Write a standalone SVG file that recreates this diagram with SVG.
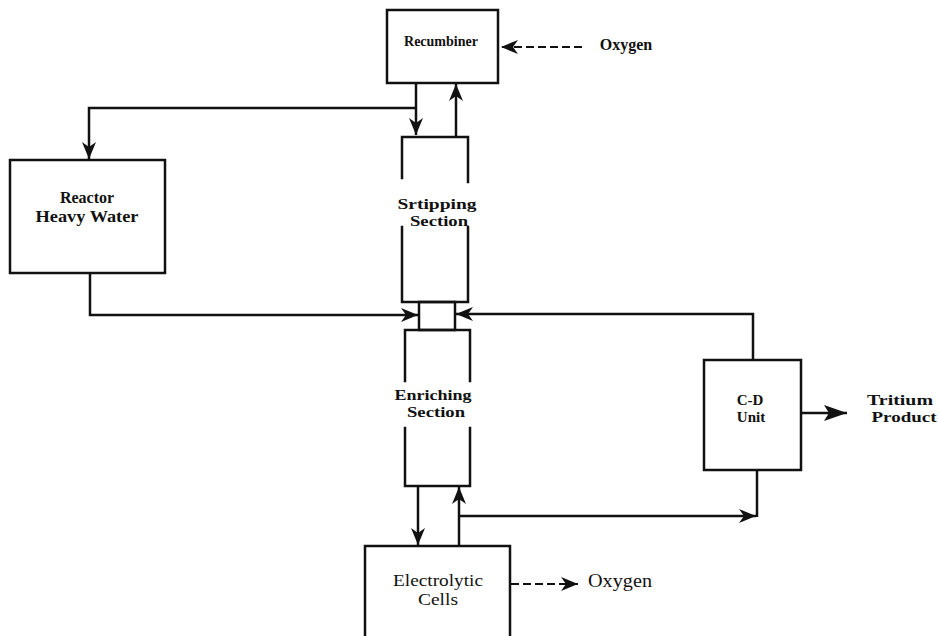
<svg xmlns="http://www.w3.org/2000/svg" width="939" height="636" viewBox="0 0 939 636">
<defs>
<style>
.box{fill:none;stroke:#111;stroke-width:2.5;stroke-linecap:square}
.ln{fill:none;stroke:#111;stroke-width:2.5}
.dash{fill:none;stroke:#111;stroke-width:1.8;stroke-dasharray:8,4}
.t{font-family:"Liberation Serif","DejaVu Serif",serif;font-weight:bold;fill:#111;text-anchor:middle}
.n{font-family:"Liberation Serif","DejaVu Serif",serif;font-weight:normal;fill:#111;text-anchor:middle}
</style>
<marker id="ah" markerWidth="18" markerHeight="14" refX="17" refY="7" orient="auto" markerUnits="userSpaceOnUse">
<path d="M0,0 L17,7 L0,14 L5,7 Z" fill="#111"/>
</marker>
<marker id="ahb" markerWidth="24" markerHeight="16" refX="23" refY="8" orient="auto" markerUnits="userSpaceOnUse">
<path d="M0,0 L23,8 L0,16 L5,8 Z" fill="#111"/>
</marker>
</defs>
<rect width="939" height="636" fill="#fff"/>

<g id="connectors">
<path class="ln" d="M416,83 V135" marker-end="url(#ah)"/>
<path class="ln" d="M416,108 H89 V159" marker-end="url(#ah)"/>
<path class="ln" d="M456,137 V84" marker-end="url(#ah)"/>
<path class="ln" d="M90,273 V315 H418" marker-end="url(#ah)"/>
<path class="ln" d="M753,360 V314 H456" marker-end="url(#ah)"/>
<path class="ln" d="M418,486 V545" marker-end="url(#ah)"/>
<path class="ln" d="M459,546 V487" marker-end="url(#ah)"/>
<path class="ln" d="M459,516 H756" marker-end="url(#ah)"/>
<path class="ln" d="M757,470 V517"/>
<path class="ln" d="M801,413 H847" marker-end="url(#ahb)"/>
<path class="dash" d="M582,47 H501" marker-end="url(#ah)"/>
<path class="dash" d="M511,584 H578" marker-end="url(#ah)"/>
</g>

<g id="recombiner">
<rect class="box" x="387" y="10" width="111" height="73"/>
<text class="t" x="441" y="46" font-size="15" textLength="74" lengthAdjust="spacingAndGlyphs">Recumbiner</text>
</g>

<g id="oxygen-in">
<text class="t" x="626" y="50" font-size="16">Oxygen</text>
</g>

<g id="reactor">
<rect class="box" x="10" y="160" width="155" height="113"/>
<text class="t" x="87" y="203" font-size="16">Reactor</text>
<text class="t" x="87" y="222" font-size="16" textLength="103" lengthAdjust="spacingAndGlyphs">Heavy Water</text>
</g>

<g id="stripping">
<path class="box" d="M402,178 V137 H468 V182 M402,227 V302 H468 V227"/>
<text class="t" x="437" y="209" font-size="14.5" textLength="79" lengthAdjust="spacingAndGlyphs">Srtipping</text>
<text class="t" x="439" y="226" font-size="14.5" textLength="58" lengthAdjust="spacingAndGlyphs">Section</text>
</g>

<g id="middle">
<rect class="box" x="419" y="302" width="36" height="28"/>
</g>

<g id="enriching">
<path class="box" d="M405,381 V330 H470 V381 M405,428 V486 H470 V428"/>
<text class="t" x="433" y="400" font-size="14.5" textLength="77" lengthAdjust="spacingAndGlyphs">Enriching</text>
<text class="t" x="436" y="417" font-size="14.5" textLength="58" lengthAdjust="spacingAndGlyphs">Section</text>
</g>

<g id="cd-unit">
<rect class="box" x="704" y="360" width="97" height="110"/>
<text class="t" x="750" y="405" font-size="15">C-D</text>
<text class="t" x="751" y="422" font-size="15">Unit</text>
</g>

<g id="tritium">
<text class="t" x="900" y="405" font-size="15" textLength="66" lengthAdjust="spacingAndGlyphs">Tritium</text>
<text class="t" x="904" y="422" font-size="15" textLength="65" lengthAdjust="spacingAndGlyphs">Product</text>
</g>

<g id="electrolytic">
<path class="box" d="M365,640 V546 H510 V640"/>
<text class="n" x="438" y="586" font-size="16.5" textLength="90" lengthAdjust="spacingAndGlyphs">Electrolytic</text>
<text class="n" x="438" y="605" font-size="16.5" textLength="40" lengthAdjust="spacingAndGlyphs">Cells</text>
</g>

<g id="oxygen-out">
<text class="n" x="620" y="587" font-size="18" textLength="64" lengthAdjust="spacingAndGlyphs">Oxygen</text>
</g>
</svg>
